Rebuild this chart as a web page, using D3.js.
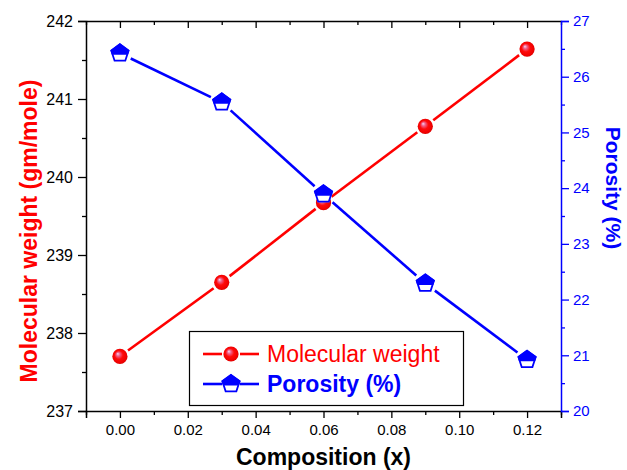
<!DOCTYPE html>
<html>
<head>
<meta charset="utf-8">
<script src="https://cdn.jsdelivr.net/npm/d3@7"></script>
<style>
  body { margin: 0; background: #fff; }
  svg { display: block; font-family: "Liberation Sans", Arial, sans-serif; }
</style>
</head>
<body>
<div id="chart"></div>
<script>
// data
var composition = [0.00, 0.03, 0.06, 0.09, 0.12];
var molWeight = [237.70, 238.65, 239.67, 240.65, 241.64];
var porosity = [26.42, 25.54, 23.89, 22.29, 20.92];

var xMajor = [0.00, 0.02, 0.04, 0.06, 0.08, 0.10, 0.12];
var xMinor = [-0.01, 0.01, 0.03, 0.05, 0.07, 0.09, 0.11, 0.13];
var leftMajor = [237, 238, 239, 240, 241, 242];
var leftMinor = [237.5, 238.5, 239.5, 240.5, 241.5];
var rightMajor = [20, 21, 22, 23, 24, 25, 26, 27];
var rightMinor = [20.5, 21.5, 22.5, 23.5, 24.5, 25.5, 26.5];

var red = "#ff0000";
var blue = "#0000ff";

// plot box
var margin = { top: 21, right: 66, bottom: 59, left: 86 },
    W = 627, H = 470,
    width = W - margin.left - margin.right,
    height = H - margin.top - margin.bottom;

var svg = d3.select("#chart").append("svg")
  .attr("width", W)
  .attr("height", H);

var defs = svg.append("defs");

// shaded ball for molecular weight
var grad = defs.append("radialGradient")
  .attr("id", "ball")
  .attr("cx", "50%").attr("cy", "50%").attr("r", "55%")
  .attr("fx", "35%").attr("fy", "32%");
grad.append("stop").attr("offset", "0%").attr("stop-color", "#f4d6ee");
grad.append("stop").attr("offset", "22%").attr("stop-color", "#f0608a");
grad.append("stop").attr("offset", "50%").attr("stop-color", "#ff0a0a");
grad.append("stop").attr("offset", "85%").attr("stop-color", "#ee0000");
grad.append("stop").attr("offset", "100%").attr("stop-color", "#c00000");

var g = svg.append("g")
  .attr("transform", "translate(" + margin.left + "," + margin.top + ")");

var x = d3.scaleLinear().domain([-0.01, 0.13]).range([0, width]);
var yL = d3.scaleLinear().domain([237, 242]).range([height, 0]);
var yR = d3.scaleLinear().domain([20, 27]).range([height, 0]);

// bottom axis
g.append("g")
  .attr("transform", "translate(0," + height + ")")
  .call(d3.axisBottom(x).tickValues(xMajor).tickSize(7).tickPadding(6)
    .tickFormat(d3.format(".2f")));
g.append("g")
  .attr("transform", "translate(0," + height + ")")
  .call(d3.axisBottom(x).tickValues(xMinor).tickSize(4).tickFormat(""))
  .select(".domain").remove();

// top axis (ticks pointing in, no labels)
g.append("g")
  .call(d3.axisBottom(x).tickValues(xMajor).tickSize(7).tickFormat("").tickSizeOuter(0));
g.append("g")
  .call(d3.axisBottom(x).tickValues(xMinor).tickSize(4).tickFormat(""))
  .select(".domain").remove();

// left axis
g.append("g")
  .attr("class", "leftax")
  .call(d3.axisLeft(yL).tickValues(leftMajor).tickSize(8).tickPadding(5)
    .tickFormat(d3.format("d")));
g.append("g")
  .call(d3.axisLeft(yL).tickValues(leftMinor).tickSize(4).tickFormat(""))
  .select(".domain").remove();

// axis styling (black first, right axis turned blue below)
g.selectAll(".domain").attr("stroke", "#000").attr("stroke-width", 1.5);
g.selectAll(".tick line").attr("stroke", "#000").attr("stroke-width", 1.3);
g.selectAll(".tick text").attr("fill", "#000").style("font-size", "15px");
g.selectAll(".leftax .tick text").style("font-size", "16px");

// right axis (blue)
var rightAx = g.append("g")
  .attr("transform", "translate(" + width + ",0)")
  .call(d3.axisRight(yR).tickValues(rightMajor).tickSize(8).tickPadding(4)
    .tickFormat(d3.format("d")));
var rightMin = g.append("g")
  .attr("transform", "translate(" + width + ",0)")
  .call(d3.axisRight(yR).tickValues(rightMinor).tickSize(4).tickFormat(""));
rightMin.select(".domain").remove();

rightAx.select(".domain").attr("stroke", blue).attr("stroke-width", 1.5);
rightAx.selectAll(".tick line").attr("stroke", blue).attr("stroke-width", 1.3);
rightMin.selectAll(".tick line").attr("stroke", blue).attr("stroke-width", 1.3);
rightAx.selectAll(".tick text").attr("fill", blue).style("font-size", "15px");

// segments with a small gap round each marker
function drawSegments(vals, yScale, color, gap) {
  for (var i = 0; i < vals.length - 1; i++) {
    var x1 = x(composition[i]), y1 = yScale(vals[i]);
    var x2 = x(composition[i + 1]), y2 = yScale(vals[i + 1]);
    var len = Math.sqrt((x2 - x1) * (x2 - x1) + (y2 - y1) * (y2 - y1));
    var ux = (x2 - x1) / len, uy = (y2 - y1) / len;
    g.append("line")
      .attr("x1", x1 + ux * gap).attr("y1", y1 + uy * gap)
      .attr("x2", x2 - ux * gap).attr("y2", y2 - uy * gap)
      .attr("stroke", color)
      .attr("stroke-width", 2.6);
  }
}
drawSegments(molWeight, yL, red, 10);
drawSegments(porosity, yR, blue, 12);

// pentagon marker, top part filled, lower part open
var pentR = 10;
function pentPath(r) {
  var pts = d3.range(5).map(function(k) {
    var a = -Math.PI / 2 + k * 2 * Math.PI / 5;
    return [r * Math.cos(a), r * Math.sin(a)];
  });
  return "M" + pts.join("L") + "Z";
}
defs.append("clipPath").attr("id", "pentTop")
  .append("rect").attr("x", -20).attr("y", -20).attr("width", 40).attr("height", 21.5);

function drawPent(sel, cx, cy) {
  var p = sel.append("g").attr("transform", "translate(" + cx + "," + cy + ")");
  p.append("path").attr("d", pentPath(pentR)).attr("fill", "#fff");
  p.append("path").attr("d", pentPath(pentR)).attr("fill", blue)
    .attr("clip-path", "url(#pentTop)");
  p.append("path").attr("d", pentPath(pentR - 0.9)).attr("fill", "none")
    .attr("stroke", blue).attr("stroke-width", 1.8);
}
function drawBall(sel, cx, cy) {
  sel.append("circle")
    .attr("cx", cx).attr("cy", cy).attr("r", 7.6)
    .attr("fill", "url(#ball)");
}

composition.forEach(function(c, i) {
  drawBall(g, x(c), yL(molWeight[i]));
});
composition.forEach(function(c, i) {
  drawPent(g, x(c), yR(porosity[i]));
});

// legend
var leg = svg.append("g");
leg.append("rect")
  .attr("x", 189.5).attr("y", 331.5).attr("width", 274).attr("height", 74)
  .attr("fill", "#fff").attr("stroke", "#000").attr("stroke-width", 1.2);

var legRows = [
  { label: "Molecular weight", color: red, weight: "normal", y: 354, mark: "ball" },
  { label: "Porosity (%)", color: blue, weight: "bold", y: 384, mark: "pent" }
];
legRows.forEach(function(r) {
  leg.append("line").attr("x1", 203).attr("x2", 222).attr("y1", r.y).attr("y2", r.y)
    .attr("stroke", r.color).attr("stroke-width", 2.6);
  leg.append("line").attr("x1", 240).attr("x2", 259).attr("y1", r.y).attr("y2", r.y)
    .attr("stroke", r.color).attr("stroke-width", 2.6);
  if (r.mark === "ball") drawBall(leg, 231, r.y);
  else drawPent(leg, 231, r.y);
  leg.append("text")
    .attr("x", 267).attr("y", r.y)
    .attr("dy", "0.36em")
    .attr("fill", r.color)
    .style("font-size", "23px")
    .style("font-weight", r.weight)
    .text(r.label);
});

// axis titles
svg.append("text")
  .attr("x", margin.left + width / 2).attr("y", 465)
  .attr("text-anchor", "middle")
  .style("font-size", "23px").style("font-weight", "bold")
  .attr("fill", "#000")
  .text("Composition (x)");

svg.append("text")
  .attr("transform", "translate(37," + 231 + ") rotate(-90)")
  .attr("text-anchor", "middle")
  .style("font-size", "23px").style("font-weight", "bold")
  .attr("fill", red)
  .text("Molecular weight (gm/mole)");

svg.append("text")
  .attr("transform", "translate(613," + 188 + ") rotate(90)")
  .attr("text-anchor", "middle")
  .attr("dy", "0.35em")
  .style("font-size", "21px").style("font-weight", "bold")
  .attr("fill", blue)
  .text("Porosity (%)");
</script>
</body>
</html>
